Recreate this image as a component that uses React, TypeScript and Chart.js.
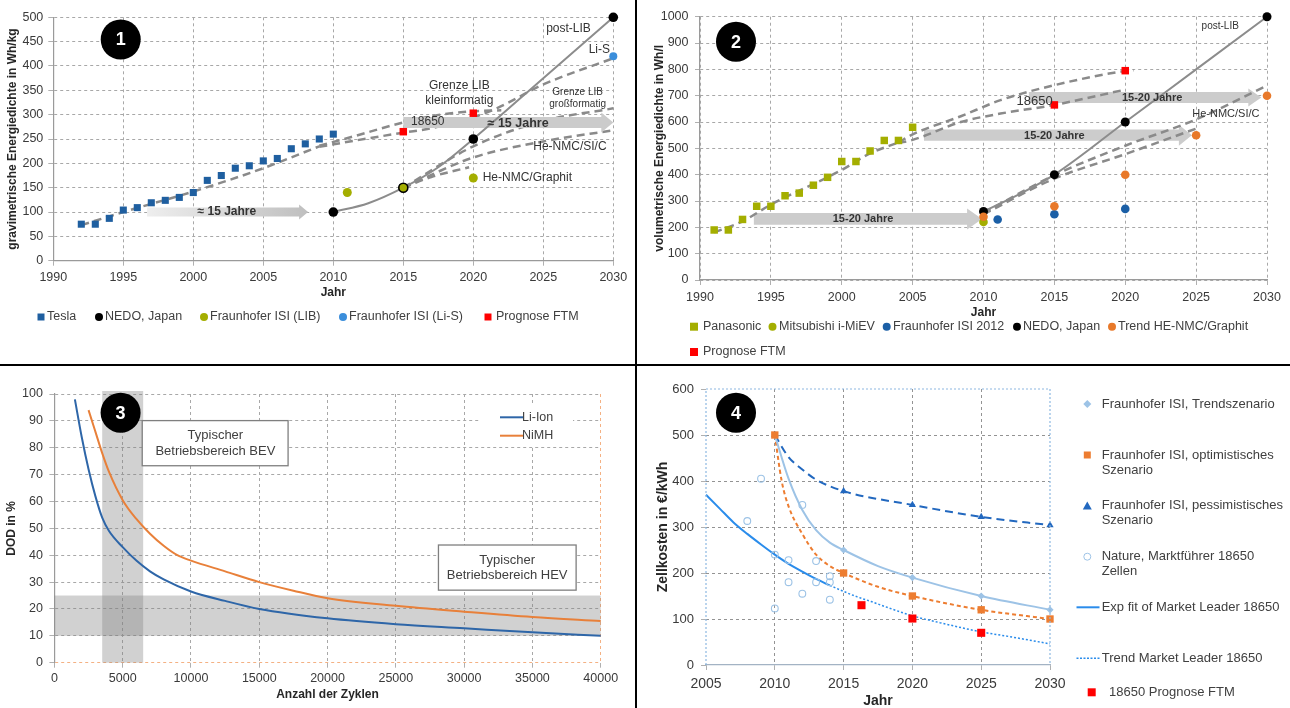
import React, { useEffect, useRef } from 'react';
import { Chart, registerables } from 'chart.js';

Chart.register(...registerables);

const FONT = "'Liberation Sans', Arial, Helvetica, sans-serif";
Chart.defaults.font.family = FONT;

const PAGE_W = 1290;
const PAGE_H = 708;
const Y_AXIS_W = 50;
const X_AXIS_H = 40;

// ---------------- Panel 1: gravimetrische Energiedichte (Wh/kg) ----------------
const teslaYears = [1992, 1993, 1994, 1995, 1996, 1997, 1998, 1999, 2000, 2001, 2002, 2003, 2004, 2005, 2006, 2007, 2008, 2009, 2010];
const teslaWhKg = [75, 75, 87, 104, 109, 119, 124, 130, 140, 165, 175, 190, 195, 205, 210, 230, 240, 250, 260];
const nedoYears1 = [2010, 2015, 2020, 2030];
const nedoWhKg = [100, 150, 250, 500];
const isiLibYears = [2011, 2015, 2020];
const isiLibWhKg = [140, 150, 170];
const isiLisYears = [2030];
const isiLisWhKg = [420];
const ftmYears1 = [2015, 2020];
const ftmWhKg = [265, 303];
// curves
const nedoCurveYears1 = [2010, 2012.5, 2015, 2017.5, 2020, 2025, 2030];
const nedoCurveWhKg = [100, 118, 150, 192, 250, 375, 500];
const teslaTrendYears = [1992, 1995, 2000, 2005, 2009];
const teslaTrendWhKg = [73, 100, 142, 190, 235];
const kleinTrendYears = [2009, 2011.4, 2015, 2017.4, 2020, 2022];
const kleinTrendWhKg = [236, 255, 284, 299, 307, 309];
const cellLisTrendYears = [2009, 2011.4, 2015, 2017, 2019.5, 2021.6, 2025, 2030];
const cellLisTrendWhKg = [234, 246, 263, 272, 290, 312, 362, 416];
const grossTrendYears = [2015, 2020, 2025, 2030];
const grossTrendWhKg = [150, 235, 287, 313];
const siTrendYears1 = [2015, 2020, 2025, 2030];
const siTrendWhKg = [150, 212, 245, 268];
const graphitTrendYears = [2015, 2017, 2019.7];
const graphitTrendWhKg = [150, 172, 192];
const xTicks1 = { min: 1990, max: 2030, step: 5 };
const yTicks1 = { min: 0, max: 500, step: 50 };

// ---------------- Panel 2: volumetrische Energiedichte (Wh/l) ----------------
const panasonicYears = [1991, 1992, 1993, 1994, 1995, 1996, 1997, 1998, 1999, 2000, 2001, 2002, 2003, 2004, 2005];
const panasonicWhl = [190, 190, 230, 280, 280, 320, 330, 360, 390, 450, 450, 490, 530, 530, 580];
const mitsubishiYears = [2010];
const mitsubishiWhl = [220];
const isi2012Years = [2011, 2015, 2020];
const isi2012Whl = [230, 250, 270];
const nedoYears2 = [2010, 2015, 2020, 2030];
const nedoWhl = [260, 400, 600, 1000];
const trendNmcYears = [2010, 2015, 2020, 2025, 2030];
const trendNmcWhl = [240, 280, 400, 550, 700];
const ftmYears2 = [2015, 2020];
const ftmWhl = [665, 795];
const nedoCurveYears2 = [2010, 2012.5, 2015, 2020, 2025, 2030];
const nedoCurveWhl = [260, 325, 400, 600, 800, 1000];
const panaTrendYears = [1991, 1993, 1995, 2000, 2002, 2004];
const panaTrendWhl = [181, 223, 286, 418, 481, 522];
const panaUpperYears = [2004, 2005, 2008.4, 2011.2, 2015, 2020, 2020.6];
const panaUpperWhl = [522, 553, 622, 683, 740, 794, 797];
const panaLowerYears = [2004, 2005, 2008.4, 2011.2, 2015, 2020];
const panaLowerWhl = [520, 532, 600, 632, 665, 723];
const siVolYears = [2010, 2015, 2020, 2025, 2030];
const siVolWhl = [255, 398, 510, 610, 738];
const graphVolYears = [2010, 2015, 2020, 2025];
const graphVolWhl = [250, 385, 478, 575];
const xTicks2 = { min: 1990, max: 2030, step: 5 };
const yTicks2 = { min: 0, max: 1000, step: 100 };

// ---------------- Panel 3: DOD vs. Zyklen ----------------
const liIonCycles = [1500, 2000, 2500, 3000, 3500, 4000, 5000, 6000, 7000, 8000, 10000, 12500, 15000, 20000, 25000, 30000, 35000, 40000];
const liIonDod = [98, 84, 72, 62, 54, 49, 43, 38, 34, 31, 26.5, 23, 20, 16.5, 14.3, 12.8, 11.3, 10];
const nimhCycles = [2500, 3000, 3500, 4000, 5000, 6000, 7000, 8000, 9000, 10000, 12500, 15000, 17500, 20000, 25000, 30000, 35000, 40000];
const nimhDod = [94, 86, 78, 71, 60.5, 53.5, 48, 43.5, 40, 38, 34, 30, 26.8, 24, 21.2, 19, 17, 15.5];
const xTicks3 = { min: 0, max: 40000, step: 5000 };
const yTicks3 = { min: 0, max: 100, step: 10 };

// ---------------- Panel 4: Zellkosten ----------------
const trendYears = [2010, 2015, 2020, 2025, 2030];
const trendCost = [500, 250, 190, 150, 120];
const trendCurveYears = [2010, 2011, 2012, 2013, 2014, 2015, 2017.5, 2020, 2025, 2030];
const trendCurveCost = [500, 405, 337, 293, 266, 250, 215, 190, 150, 120];
const optYears = [2010, 2015, 2020, 2025, 2030];
const optCost = [500, 200, 150, 120, 100];
const optCurveYears = [2010, 2010.5, 2011, 2012, 2013, 2014, 2015, 2017.5, 2020, 2025, 2030];
const optCurveCost = [500, 400, 345, 285, 240, 215, 200, 170, 150, 120, 100];
const pessYears = [2010, 2015, 2020, 2025, 2030];
const pessCost = [500, 378, 348, 322, 304];
const pessCurveYears = [2010, 2011, 2012, 2013, 2015, 2020, 2025, 2030];
const pessCurveCost = [500, 452, 425, 403, 378, 348, 322, 304];
const natureYears = [2008, 2009, 2010, 2010, 2011, 2011, 2012, 2012, 2013, 2013, 2014, 2014, 2014];
const natureCost = [313, 405, 240, 123, 228, 180, 348, 155, 226, 180, 193, 180, 142];
const expFitYears = [2005, 2006, 2007, 2008, 2009, 2010, 2011, 2012, 2013, 2014];
const expFitCost = [370, 340, 310, 285, 262, 240, 220, 203, 187, 173];
const mlTrendYears = [2014, 2015, 2016, 2017, 2018, 2020, 2022, 2025, 2027, 2030];
const mlTrendCost = [173, 160, 148, 138, 127, 107, 92, 72, 62, 46];
const ftmYears4 = [2016.3, 2020, 2025];
const ftmCost = [130, 101, 70];
const xTicks4 = { min: 2005, max: 2030, step: 5 };
const yTicks4 = { min: 0, max: 600, step: 100 };

// ---------------- styling ----------------
const GRID = '#a8a8a8';
const AXIS = '#9a9a9a';
const TICK_TXT = '#3a3a3a';
const LABEL_TXT = '#333333';
const TREND_GRAY = '#8a8a8a';
const TESLA_BLUE = '#1F5FA0';
const OLIVE = '#A4AE00';
const LIS_BLUE = '#3B8EDB';
const RED = '#FF0000';
const ORANGE = '#E8792A';
const ISI_BLUE = '#1B5FA6';
const LIION = '#2E66A8';
const NIMH = '#E8803A';
const LIGHT_ORANGE = '#F4B183';
const C_TREND = '#9DC3E6';
const C_OPT = '#ED7D31';
const C_PESS = '#2268BF';
const C_EXP = '#2A8CEB';

type XY = { x: number; y: number };
const zip = (xs: number[], ys: number[]): XY[] => xs.map((x, i) => ({ x, y: ys[i] }));

function pointSet(label: string, data: XY[], style: string, radius: number, fill: any, stroke?: any, bw?: any) {
  return {
    label, data, showLine: false, pointStyle: style, pointRadius: radius, pointHoverRadius: radius,
    backgroundColor: fill, borderColor: stroke ?? fill, pointBackgroundColor: fill,
    pointBorderColor: stroke ?? fill, pointBorderWidth: bw ?? 0, clip: false,
  };
}
function lineSet(label: string, data: XY[], color: string, width: number, dash: number[]) {
  return {
    label, data, showLine: true, pointRadius: 0, pointHoverRadius: 0, borderColor: color,
    backgroundColor: color, borderWidth: width, borderDash: dash, cubicInterpolationMode: 'monotone',
    fill: false, clip: false,
  };
}

function scaleCfg(t: { min: number; max: number; step: number }, isX: boolean, fontSize: number, pad: number, gridColor: any, border: boolean, borderColor = AXIS) {
  return {
    type: 'linear', min: t.min, max: t.max,
    ticks: {
      stepSize: t.step, color: TICK_TXT, font: { family: FONT, size: fontSize }, padding: pad,
      maxRotation: 0, autoSkip: false, callback: (v: any) => String(v),
    },
    grid: { color: gridColor, lineWidth: 1, drawTicks: true, tickLength: 5, tickColor: '#b0b0b0', tickWidth: 1 },
    border: { display: border, color: borderColor, width: 1.2, dash: [3, 3] },
    afterFit: (s: any) => { if (isX) s.height = X_AXIS_H; else s.width = Y_AXIS_W; },
  };
}

function baseOptions(area: { l: number; r: number; t: number; b: number }, x: any, y: any) {
  return {
    animation: false, responsive: false, events: [],
    layout: { padding: { left: area.l - Y_AXIS_W, right: PAGE_W - area.r, top: area.t, bottom: PAGE_H - area.b - X_AXIS_H } },
    plugins: { legend: { display: false }, tooltip: { enabled: false } },
    scales: { x, y },
  };
}

// ---------------- drawing helpers ----------------
function drawText(ctx: any, s: string, x: number, y: number, size: number, o: any = {}) {
  ctx.save();
  ctx.font = `${o.bold ? 'bold ' : ''}${size}px ${FONT}`;
  ctx.fillStyle = o.color || LABEL_TXT;
  ctx.textAlign = o.align || 'center';
  ctx.textBaseline = 'middle';
  ctx.fillText(s, x, y);
  ctx.restore();
}
function drawVText(ctx: any, s: string, x: number, y: number, size: number) {
  ctx.save();
  ctx.translate(x, y);
  ctx.rotate(-Math.PI / 2);
  ctx.font = `bold ${size}px ${FONT}`;
  ctx.fillStyle = '#262626';
  ctx.textAlign = 'center';
  ctx.textBaseline = 'middle';
  ctx.fillText(s, 0, 0);
  ctx.restore();
}
function drawArrow(ctx: any, x1: number, x2: number, yc: number, bh: number, hh: number, hl: number, fill: any) {
  ctx.save();
  ctx.beginPath();
  ctx.moveTo(x1, yc - bh / 2);
  ctx.lineTo(x2 - hl, yc - bh / 2);
  ctx.lineTo(x2 - hl, yc - hh / 2);
  ctx.lineTo(x2, yc);
  ctx.lineTo(x2 - hl, yc + hh / 2);
  ctx.lineTo(x2 - hl, yc + bh / 2);
  ctx.lineTo(x1, yc + bh / 2);
  ctx.closePath();
  ctx.fillStyle = fill;
  ctx.fill();
  ctx.restore();
}
function drawBadge(ctx: any, cx: number, cy: number, label: string) {
  ctx.save();
  ctx.beginPath();
  ctx.arc(cx, cy, 20, 0, Math.PI * 2);
  ctx.fillStyle = '#000';
  ctx.fill();
  ctx.restore();
  drawText(ctx, label, cx, cy + 1, 18, { bold: true, color: '#fff' });
}
function drawMarker(ctx: any, shape: string, x: number, y: number, color: string) {
  ctx.save();
  ctx.fillStyle = color;
  ctx.strokeStyle = color;
  ctx.beginPath();
  if (shape === 'square') ctx.rect(x - 3.5, y - 3.5, 7, 7);
  else if (shape === 'bigsquare') ctx.rect(x - 4, y - 4, 8, 8);
  else if (shape === 'circle') ctx.arc(x, y, 4, 0, Math.PI * 2);
  else if (shape === 'diamond') { ctx.moveTo(x, y - 4); ctx.lineTo(x + 4, y); ctx.lineTo(x, y + 4); ctx.lineTo(x - 4, y); ctx.closePath(); }
  else if (shape === 'triangle') { ctx.moveTo(x, y - 4.5); ctx.lineTo(x + 4.5, y + 3.5); ctx.lineTo(x - 4.5, y + 3.5); ctx.closePath(); }
  if (shape === 'ring') {
    ctx.arc(x, y, 3.5, 0, Math.PI * 2);
    ctx.lineWidth = 1;
    ctx.stroke();
  } else if (shape === 'line' || shape === 'dotline') {
    ctx.moveTo(x - 11, y);
    ctx.lineTo(x + 12, y);
    ctx.lineWidth = shape === 'line' ? 2 : 1.5;
    if (shape === 'dotline') ctx.setLineDash([2, 1.5]);
    ctx.stroke();
  } else ctx.fill();
  ctx.restore();
}

const sx = (c: any, v: number) => c.scales.x.getPixelForValue(v);
const sy = (c: any, v: number) => c.scales.y.getPixelForValue(v);

// ---------------- Panel 1 ----------------
// index of the last dashed trend line to be drawn (datasets are drawn from the highest index down)
const P1_LAST_DASHED_INDEX = 6;
const overlay1 = {
  id: 'overlay1',
  afterDatasetDraw(c: any, args: any) {
    if (args.index !== P1_LAST_DASHED_INDEX) return;
    const ctx = c.ctx;
    const g = ctx.createLinearGradient(sx(c, 1996.7), 0, sx(c, 2008.2), 0);
    g.addColorStop(0, '#eeeeee');
    g.addColorStop(1, '#bfbfbf');
    drawArrow(ctx, sx(c, 1996.7), sx(c, 2008.2), sy(c, 100), 9, 15, 9, g);
    drawArrow(ctx, sx(c, 2015), sx(c, 2030), sy(c, 284), 11, 20, 12, '#cbcbcb');
  },
  afterDatasetsDraw(c: any) {
    const ctx = c.ctx;
    drawText(ctx, '≈ 15 Jahre', sx(c, 2002.4), sy(c, 100), 12, { bold: true });
    drawText(ctx, '≈ 15 Jahre', sx(c, 2023.2), sy(c, 282), 12.5, { bold: true });
    drawText(ctx, '18650', sx(c, 2016.75), sy(c, 286), 12);
    drawText(ctx, 'post-LIB', sx(c, 2026.8), sy(c, 477), 12);
    drawText(ctx, 'Li-S', sx(c, 2029.0), sy(c, 434), 12);
    drawText(ctx, 'Grenze LIB', sx(c, 2019.0), sy(c, 360), 12);
    drawText(ctx, 'kleinformatig', sx(c, 2019.0), sy(c, 328), 12);
    drawText(ctx, 'Grenze LIB', sx(c, 2027.45), sy(c, 347), 10);
    drawText(ctx, 'großformatig', sx(c, 2027.45), sy(c, 322), 10);
    drawText(ctx, 'He-NMC/SI/C', sx(c, 2026.9), sy(c, 234), 12);
    drawText(ctx, 'He-NMC/Graphit', sx(c, 2020.67), sy(c, 170.5), 12, { align: 'left' });
  },
  afterDraw(c: any) {
    const ctx = c.ctx;
    drawBadge(ctx, 120.7, 39.5, '1');
    drawVText(ctx, 'gravimetrische Energiedichte in Wh/kg', 12.5, 139, 12);
    drawText(ctx, 'Jahr', 333.3, 292.7, 12, { bold: true, color: '#262626' });
    const y = 317;
    const items = [
      ['square', 41, 47, TESLA_BLUE, 'Tesla'],
      ['circle', 99, 105, '#000', 'NEDO, Japan'],
      ['circle', 204, 210, OLIVE, 'Fraunhofer ISI (LIB)'],
      ['circle', 343, 349, LIS_BLUE, 'Fraunhofer ISI (Li-S)'],
      ['square', 488, 496, RED, 'Prognose FTM'],
    ];
    items.forEach(([s, mx, tx, col, lab]: any) => {
      drawMarker(ctx, s, mx, y, col);
      drawText(ctx, lab, tx, y, 12.5, { align: 'left', color: '#404040' });
    });
  },
};

function config1(): any {
  const area = { l: 53.3, r: 613.3, t: 17.3, b: 260.7 };
  return {
    type: 'scatter',
    data: {
      datasets: [
        pointSet('Fraunhofer ISI (LIB)', zip(isiLibYears, isiLibWhKg), 'circle', 4.5, OLIVE, [OLIVE, '#000', OLIVE], [0, 1.6, 0]),
        pointSet('Fraunhofer ISI (Li-S)', zip(isiLisYears, isiLisWhKg), 'circle', 4, LIS_BLUE),
        pointSet('Prognose FTM', zip(ftmYears1, ftmWhKg), 'rect', 5.3, RED),
        pointSet('NEDO, Japan', zip(nedoYears1, nedoWhKg), 'circle', 4.8, '#000'),
        pointSet('Tesla', zip(teslaYears, teslaWhKg), 'rect', 5, TESLA_BLUE),
        lineSet('NEDO Verlauf', zip(nedoCurveYears1, nedoCurveWhKg), '#8c8c8c', 2, []),
        lineSet('Tesla Trend', zip(teslaTrendYears, teslaTrendWhKg), TREND_GRAY, 2.5, [8, 5]),
        lineSet('Grenze LIB kleinformatig', zip(kleinTrendYears, kleinTrendWhKg), TREND_GRAY, 2.5, [8, 5]),
        lineSet('18650 / Li-S', zip(cellLisTrendYears, cellLisTrendWhKg), TREND_GRAY, 2.5, [8, 5]),
        lineSet('Grenze LIB großformatig', zip(grossTrendYears, grossTrendWhKg), TREND_GRAY, 2.5, [8, 5]),
        lineSet('He-NMC/SI/C', zip(siTrendYears1, siTrendWhKg), TREND_GRAY, 2.5, [8, 5]),
        lineSet('He-NMC/Graphit', zip(graphitTrendYears, graphitTrendWhKg), TREND_GRAY, 2.5, [8, 5]),
      ],
    },
    options: baseOptions(area, scaleCfg(xTicks1, true, 12.5, 4, GRID, true), scaleCfg(yTicks1, false, 12.5, 5, GRID, true)),
    plugins: [overlay1],
  };
}

// ---------------- Panel 2 ----------------
const overlay2 = {
  id: 'overlay2',
  beforeDatasetsDraw(c: any) {
    const ctx = c.ctx;
    drawArrow(ctx, sx(c, 1993.8), sx(c, 2009.9), sy(c, 232), 11.7, 21, 15, '#cccccc');
    drawArrow(ctx, sx(c, 2005.8), sx(c, 2024.7), sy(c, 550), 11.3, 21, 13, '#cccccc');
    drawArrow(ctx, sx(c, 2013.2), sx(c, 2029.6), sy(c, 693), 11, 18, 13, '#cccccc');
  },
  afterDatasetsDraw(c: any) {
    const ctx = c.ctx;
    drawText(ctx, '15-20 Jahre', sx(c, 2001.5), sy(c, 231), 11, { bold: true });
    drawText(ctx, '15-20 Jahre', sx(c, 2015), sy(c, 548), 11, { bold: true });
    drawText(ctx, '15-20 Jahre', sx(c, 2021.9), sy(c, 693), 11, { bold: true });
    drawText(ctx, '18650', sx(c, 2013.6), sy(c, 677), 13);
    drawText(ctx, 'He-NMC/SI/C', sx(c, 2027.1), sy(c, 630), 11);
    drawText(ctx, 'post-LIB', sx(c, 2026.7), sy(c, 962), 10);
  },
  afterDraw(c: any) {
    const ctx = c.ctx;
    drawBadge(ctx, 736, 41.7, '2');
    drawVText(ctx, 'volumetrische Energiedichte in Wh/l', 660, 148.3, 12);
    drawText(ctx, 'Jahr', 983.5, 313, 12, { bold: true, color: '#262626' });
    const items = [
      ['bigsquare', 694, 703, 326.7, OLIVE, 'Panasonic'],
      ['circle', 772.5, 779, 326.7, OLIVE, 'Mitsubishi i-MiEV'],
      ['circle', 886.7, 893, 326.7, ISI_BLUE, 'Fraunhofer ISI 2012'],
      ['circle', 1017, 1023, 326.7, '#000', 'NEDO, Japan'],
      ['circle', 1112, 1118, 326.7, ORANGE, 'Trend HE-NMC/Graphit'],
      ['bigsquare', 694, 703, 352, RED, 'Prognose FTM'],
    ];
    items.forEach(([s, mx, tx, y, col, lab]: any) => {
      drawMarker(ctx, s, mx, y, col);
      drawText(ctx, lab, tx, y, 12.5, { align: 'left', color: '#404040' });
    });
  },
};

function config2(): any {
  const area = { l: 700, r: 1267, t: 16.7, b: 280 };
  return {
    type: 'scatter',
    data: {
      datasets: [
        pointSet('Panasonic', zip(panasonicYears, panasonicWhl), 'rect', 5.3, OLIVE),
        pointSet('Prognose FTM', zip(ftmYears2, ftmWhl), 'rect', 5.3, RED),
        pointSet('Trend HE-NMC/Graphit', zip(trendNmcYears, trendNmcWhl), 'circle', 4.3, ORANGE),
        pointSet('Mitsubishi i-MiEV', zip(mitsubishiYears, mitsubishiWhl), 'circle', 4.3, OLIVE),
        pointSet('Fraunhofer ISI 2012', zip(isi2012Years, isi2012Whl), 'circle', 4.3, ISI_BLUE),
        pointSet('NEDO, Japan', zip(nedoYears2, nedoWhl), 'circle', 4.5, '#000'),
        lineSet('NEDO Verlauf', zip(nedoCurveYears2, nedoCurveWhl), '#8c8c8c', 2, []),
        lineSet('Panasonic Trend', zip(panaTrendYears, panaTrendWhl), TREND_GRAY, 2.5, [8, 5]),
        lineSet('Panasonic Trend oben', zip(panaUpperYears, panaUpperWhl), TREND_GRAY, 2.5, [8, 5]),
        lineSet('Panasonic Trend unten', zip(panaLowerYears, panaLowerWhl), TREND_GRAY, 2.5, [8, 5]),
        lineSet('He-NMC/SI/C', zip(siVolYears, siVolWhl), TREND_GRAY, 2.5, [8, 5]),
        lineSet('He-NMC/Graphit', zip(graphVolYears, graphVolWhl), TREND_GRAY, 2.5, [8, 5]),
      ],
    },
    options: baseOptions(area, scaleCfg(xTicks2, true, 12.5, 5, GRID, true), scaleCfg(yTicks2, false, 12.5, 6.5, GRID, true)),
    plugins: [overlay2],
  };
}

// ---------------- Panel 3 ----------------
const overlay3 = {
  id: 'overlay3',
  beforeDatasetsDraw(c: any) {
    const ctx = c.ctx;
    const a = c.chartArea;
    ctx.save();
    ctx.fillStyle = 'rgba(128,128,128,0.36)';
    ctx.fillRect(sx(c, 3500), a.top - 3, sx(c, 6500) - sx(c, 3500), a.bottom - a.top + 3);
    ctx.fillRect(a.left, sy(c, 25), a.right - a.left, sy(c, 10) - sy(c, 25));
    ctx.restore();
  },
  afterDatasetsDraw(c: any) {
    const ctx = c.ctx;
    const box = (x1: number, x2: number, y1: number, y2: number) => {
      const l = sx(c, x1), r = sx(c, x2), t = sy(c, y1), b = sy(c, y2);
      ctx.save();
      ctx.fillStyle = '#ffffff';
      ctx.fillRect(l, t, r - l, b - t);
      ctx.strokeStyle = '#7f7f7f';
      ctx.lineWidth = 1.3;
      ctx.strokeRect(l, t, r - l, b - t);
      ctx.restore();
    };
    box(6430, 17110, 90.1, 73.3);
    drawText(ctx, 'Typischer', sx(c, 11786), sy(c, 84.4), 13, { color: '#404040' });
    drawText(ctx, 'Betriebsbereich BEV', sx(c, 11786), sy(c, 78.8), 13, { color: '#404040' });
    box(28120, 38200, 43.8, 27);
    drawText(ctx, 'Typischer', sx(c, 33150), sy(c, 38), 13, { color: '#404040' });
    drawText(ctx, 'Betriebsbereich HEV', sx(c, 33150), sy(c, 32.5), 13, { color: '#404040' });
  },
  afterDraw(c: any) {
    const ctx = c.ctx;
    ctx.save();
    ctx.fillStyle = '#ffffff';
    ctx.fillRect(480, 406, 93, 40);
    ctx.restore();
    drawMarker(ctx, 'line', 511, 417.3, LIION);
    drawText(ctx, 'Li-Ion', 522, 417.3, 12.5, { align: 'left', color: '#404040' });
    drawMarker(ctx, 'line', 511, 435.7, NIMH);
    drawText(ctx, 'NiMH', 522, 435.7, 12.5, { align: 'left', color: '#404040' });
    drawBadge(ctx, 120.6, 412.7, '3');
    drawVText(ctx, 'DOD in %', 12, 528.4, 12);
    drawText(ctx, 'Anzahl der Zyklen', 327.5, 695, 12, { bold: true, color: '#262626' });
  },
};

function config3(): any {
  const area = { l: 54.4, r: 600.7, t: 394, b: 662.7 };
  const gx = (ctx: any) => (ctx.tick && ctx.tick.value === 40000 ? LIGHT_ORANGE : GRID);
  const gy = (ctx: any) => (ctx.tick && ctx.tick.value === 0 ? LIGHT_ORANGE : GRID);
  return {
    type: 'scatter',
    data: {
      datasets: [
        lineSet('Li-Ion', zip(liIonCycles, liIonDod), LIION, 2, []),
        lineSet('NiMH', zip(nimhCycles, nimhDod), NIMH, 2, []),
      ],
    },
    options: baseOptions(area, scaleCfg(xTicks3, true, 12.5, 3, gx, false), scaleCfg(yTicks3, false, 12.5, 6.5, gy, true)),
    plugins: [overlay3],
  };
}

// ---------------- Panel 4 ----------------
const overlay4 = {
  id: 'overlay4',
  afterDraw(c: any) {
    const ctx = c.ctx;
    const a = c.chartArea;
    ctx.save();
    ctx.strokeStyle = '#8DB8E2';
    ctx.lineWidth = 1.2;
    ctx.setLineDash([2, 2]);
    ctx.beginPath();
    ctx.moveTo(a.left, a.bottom);
    ctx.lineTo(a.left, a.top);
    ctx.lineTo(a.right, a.top);
    ctx.lineTo(a.right, a.bottom);
    ctx.stroke();
    ctx.restore();
    drawBadge(ctx, 736, 412.7, '4');
    drawVText(ctx, 'Zellkosten in €/kWh', 663, 527, 14);
    drawText(ctx, 'Jahr', 878, 701, 14, { bold: true, color: '#262626' });
    const tc = '#404040';
    const fs = 13;
    drawMarker(ctx, 'diamond', 1087.3, 404, C_TREND);
    drawText(ctx, 'Fraunhofer ISI, Trendszenario', 1101.7, 404, fs, { align: 'left', color: tc });
    drawMarker(ctx, 'square', 1087.3, 455, C_OPT);
    drawText(ctx, 'Fraunhofer ISI, optimistisches', 1101.7, 455, fs, { align: 'left', color: tc });
    drawText(ctx, 'Szenario', 1101.7, 470, fs, { align: 'left', color: tc });
    drawMarker(ctx, 'triangle', 1087.3, 506, C_PESS);
    drawText(ctx, 'Fraunhofer ISI, pessimistisches', 1101.7, 505.5, fs, { align: 'left', color: tc });
    drawText(ctx, 'Szenario', 1101.7, 520.7, fs, { align: 'left', color: tc });
    drawMarker(ctx, 'ring', 1087.3, 556.7, C_TREND);
    drawText(ctx, 'Nature, Marktführer 18650', 1101.7, 556, fs, { align: 'left', color: tc });
    drawText(ctx, 'Zellen', 1101.7, 571.3, fs, { align: 'left', color: tc });
    drawMarker(ctx, 'line', 1087.5, 607.3, C_EXP);
    drawText(ctx, 'Exp fit of Market Leader 18650', 1101.7, 607.3, fs, { align: 'left', color: tc });
    drawMarker(ctx, 'dotline', 1087.5, 658.3, C_EXP);
    drawText(ctx, 'Trend Market Leader 18650', 1101.7, 658.3, fs, { align: 'left', color: tc });
    drawMarker(ctx, 'bigsquare', 1091.7, 692.3, RED);
    drawText(ctx, '18650 Prognose FTM', 1109, 692.3, fs, { align: 'left', color: tc });
  },
};

function config4(): any {
  const area = { l: 706, r: 1050, t: 389, b: 665 };
  const G4 = '#939393';
  const gx = (ctx: any) => (ctx.tick && (ctx.tick.value === 2005 || ctx.tick.value === 2030) ? 'rgba(0,0,0,0)' : G4);
  const gy = (ctx: any) => (ctx.tick && (ctx.tick.value === 600 || ctx.tick.value === 0) ? 'rgba(0,0,0,0)' : G4);
  return {
    type: 'scatter',
    data: {
      datasets: [
        pointSet('18650 Prognose FTM', zip(ftmYears4, ftmCost), 'rect', 5.7, RED),
        pointSet('Fraunhofer ISI, optimistisches Szenario', zip(optYears, optCost), 'rect', 5.2, C_OPT),
        pointSet('Fraunhofer ISI, pessimistisches Szenario', zip(pessYears, pessCost), 'triangle', 4.2, C_PESS),
        pointSet('Fraunhofer ISI, Trendszenario', zip(trendYears, trendCost), 'rectRot', 3.6, C_TREND),
        pointSet('Nature, Marktführer 18650 Zellen', zip(natureYears, natureCost), 'circle', 3.4, 'rgba(255,255,255,0)', C_TREND, 1.1),
        lineSet('Trendszenario Verlauf', zip(trendCurveYears, trendCurveCost), C_TREND, 2, []),
        lineSet('optimistisch Verlauf', zip(optCurveYears, optCurveCost), C_OPT, 2, [4, 3]),
        lineSet('pessimistisch Verlauf', zip(pessCurveYears, pessCurveCost), C_PESS, 2, [8, 5]),
        lineSet('Exp fit of Market Leader 18650', zip(expFitYears, expFitCost), C_EXP, 2, []),
        lineSet('Trend Market Leader 18650', zip(mlTrendYears, mlTrendCost), C_EXP, 1.5, [2, 2]),
      ],
    },
    options: baseOptions(area, scaleCfg(xTicks4, true, 14, 6, gx, true, '#a3b3c4'), scaleCfg(yTicks4, false, 13, 7, gy, false)),
    plugins: [overlay4],
  };
}

export default function App() {
  const r1 = useRef<HTMLCanvasElement>(null);
  const r2 = useRef<HTMLCanvasElement>(null);
  const r3 = useRef<HTMLCanvasElement>(null);
  const r4 = useRef<HTMLCanvasElement>(null);

  useEffect(() => {
    const charts = [
      new Chart(r1.current as HTMLCanvasElement, config1()),
      new Chart(r2.current as HTMLCanvasElement, config2()),
      new Chart(r3.current as HTMLCanvasElement, config3()),
      new Chart(r4.current as HTMLCanvasElement, config4()),
    ];
    return () => charts.forEach((c) => c.destroy());
  }, []);

  const cv: React.CSSProperties = { position: 'absolute', left: 0, top: 0 };
  return (
    <div style={{ position: 'absolute', left: 0, top: 0, width: PAGE_W, height: PAGE_H, background: '#ffffff', overflow: 'hidden' }}>
      <canvas ref={r1} width={PAGE_W} height={PAGE_H} style={cv} />
      <canvas ref={r2} width={PAGE_W} height={PAGE_H} style={cv} />
      <canvas ref={r3} width={PAGE_W} height={PAGE_H} style={cv} />
      <canvas ref={r4} width={PAGE_W} height={PAGE_H} style={cv} />
      <div style={{ position: 'absolute', left: 635, top: 0, width: 2, height: PAGE_H, background: '#000' }} />
      <div style={{ position: 'absolute', left: 0, top: 364, width: PAGE_W, height: 2, background: '#000' }} />
    </div>
  );
}
